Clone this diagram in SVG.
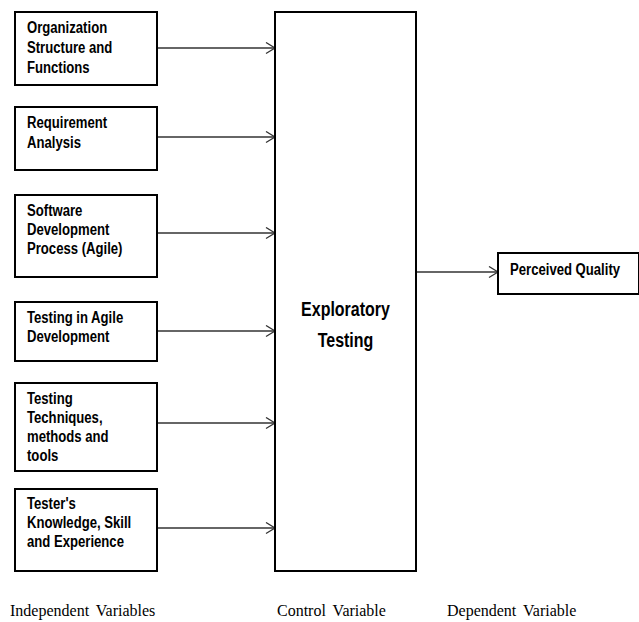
<svg xmlns="http://www.w3.org/2000/svg" width="639" height="622" viewBox="0 0 639 622">
<defs>
<marker id="arr" markerUnits="userSpaceOnUse" markerWidth="12" markerHeight="14" refX="10" refY="6" orient="auto">
<path d="M1,0.5 L10,6 L1,11.5" fill="none" stroke="#333" stroke-width="1.3"/>
</marker>
<style>
.box{fill:#fff;stroke:#000;stroke-width:2}
.t{font-family:"Liberation Sans",Arial,sans-serif;font-weight:bold;font-size:16px;fill:#000}
.big{font-size:19.5px}
.lbl{font-family:"Liberation Serif","Times New Roman",serif;font-size:16px;fill:#000;word-spacing:3px}
.c{stroke:#333;stroke-width:1.5;fill:none;marker-end:url(#arr)}
</style>
</defs>
<rect width="639" height="622" fill="#fff"/>
<g id="connectors">
<line class="c" x1="157" y1="48" x2="275" y2="48"/>
<line class="c" x1="157" y1="137" x2="275" y2="137"/>
<line class="c" x1="157" y1="233" x2="275" y2="233"/>
<line class="c" x1="157" y1="331" x2="275" y2="331"/>
<line class="c" x1="157" y1="423" x2="275" y2="423"/>
<line class="c" x1="157" y1="528" x2="275" y2="528"/>
<line class="c" x1="416" y1="272" x2="498" y2="272"/>
</g>
<g id="n1">
<rect class="box" x="15" y="12" width="142" height="73"/>
<g transform="translate(27,0) scale(0.82,1)">
<text class="t" x="0" y="33">Organization</text>
<text class="t" x="0" y="53">Structure and</text>
<text class="t" x="0" y="73">Functions</text>
</g>
</g>
<g id="n2">
<rect class="box" x="15" y="107" width="142" height="63"/>
<g transform="translate(27,0) scale(0.82,1)">
<text class="t" x="0" y="128">Requirement</text>
<text class="t" x="0" y="148">Analysis</text>
</g>
</g>
<g id="n3">
<rect class="box" x="15" y="195" width="142" height="82"/>
<g transform="translate(27,0) scale(0.82,1)">
<text class="t" x="0" y="216">Software</text>
<text class="t" x="0" y="235">Development</text>
<text class="t" x="0" y="254">Process (Agile)</text>
</g>
</g>
<g id="n4">
<rect class="box" x="15" y="302" width="142" height="59"/>
<g transform="translate(27,0) scale(0.82,1)">
<text class="t" x="0" y="323">Testing in Agile</text>
<text class="t" x="0" y="342">Development</text>
</g>
</g>
<g id="n5">
<rect class="box" x="15" y="383" width="142" height="88"/>
<g transform="translate(27,0) scale(0.82,1)">
<text class="t" x="0" y="404">Testing</text>
<text class="t" x="0" y="423">Techniques,</text>
<text class="t" x="0" y="442">methods and</text>
<text class="t" x="0" y="461">tools</text>
</g>
</g>
<g id="n6">
<rect class="box" x="15" y="489" width="142" height="82"/>
<g transform="translate(27,0) scale(0.82,1)">
<text class="t" x="0" y="509">Tester's</text>
<text class="t" x="0" y="528">Knowledge, Skill</text>
<text class="t" x="0" y="547">and Experience</text>
</g>
</g>
<g id="exploratory">
<rect class="box" x="275" y="12" width="141" height="559"/>
<g transform="translate(345.5,0) scale(0.82,1)">
<text class="t big" x="0" y="316" text-anchor="middle">Exploratory</text>
<text class="t big" x="0" y="347" text-anchor="middle">Testing</text>
</g>
</g>
<g id="perceived">
<rect class="box" x="498" y="253" width="141" height="41"/>
<g transform="translate(510,0) scale(0.82,1)">
<text class="t" x="0" y="275">Perceived Quality</text>
</g>
</g>
<g id="labels">
<text class="lbl" x="10" y="616">Independent Variables</text>
<text class="lbl" x="277" y="616">Control Variable</text>
<text class="lbl" x="447" y="616">Dependent Variable</text>
</g>
</svg>
